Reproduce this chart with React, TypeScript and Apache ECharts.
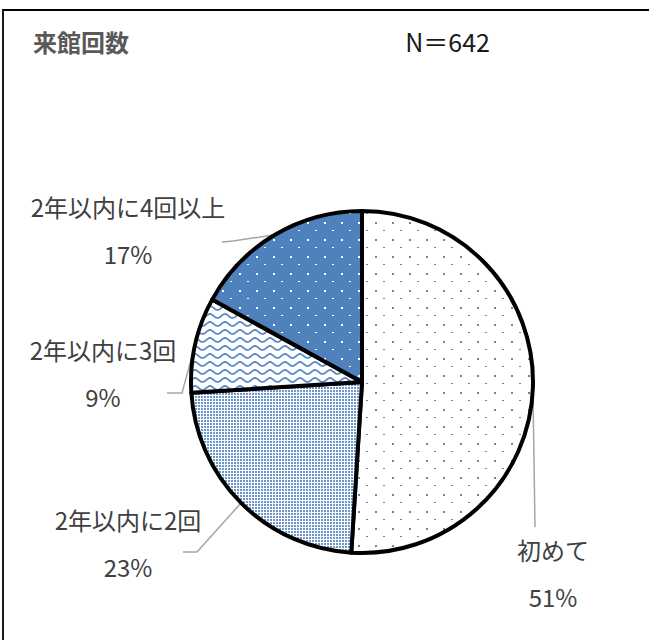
import React, { useEffect, useRef } from "react";
import * as echarts from "echarts";

// ---- data ----
const CATEGORIES = ["初めて", "2年以内に2回", "2年以内に3回", "2年以内に4回以上"];
const PERCENTS = [51, 23, 9, 17];
const TITLE = "来館回数";
const N_LABEL = "N＝642";

// ---- layout (label centres, label-line bend and end points) ----
const LABEL_CENTERS = [
  [553, 573],
  [128, 543],
  [103, 373],
  [128, 230],
];
const LINE_BENDS = [
  [535, 527],
  [197, 552],
  [182, 393],
  [233, 241],
];
const LINE_ENDS = [
  [535, 527],
  [183, 552],
  [167, 393],
  [222, 242],
];

const BLUE = "#4F81BD";
const FONT = '"Noto Sans CJK JP", "Noto Sans", sans-serif';

function makeTile(w: number, h: number, draw: (ctx: CanvasRenderingContext2D) => void) {
  const c = document.createElement("canvas");
  c.width = w;
  c.height = h;
  const ctx = c.getContext("2d") as CanvasRenderingContext2D;
  draw(ctx);
  return { image: c.toDataURL(), repeat: "repeat", imageWidth: w, imageHeight: h } as any;
}

function buildPatterns() {
  const sparse = makeTile(17, 17, (ctx) => {
    ctx.fillStyle = "#ffffff";
    ctx.fillRect(0, 0, 17, 17);
    ctx.fillStyle = "#5A8AC6";
    ctx.fillRect(1, 1, 2, 2);
    ctx.fillRect(9, 9, 2, 1);
  });
  const dense = makeTile(3, 3, (ctx) => {
    ctx.fillStyle = "#ffffff";
    ctx.fillRect(0, 0, 3, 3);
    ctx.fillStyle = "#6D96CC";
    ctx.fillRect(0, 0, 2, 2);
  });
  const wave = makeTile(15, 8, (ctx) => {
    ctx.fillStyle = "#ffffff";
    ctx.fillRect(0, 0, 15, 8);
    ctx.strokeStyle = "#5A8AC6";
    ctx.lineWidth = 1.8;
    ctx.beginPath();
    for (let i = -1; i <= 16; i++) {
      const yy = 4 - 2 * Math.cos((2 * Math.PI * i) / 15);
      if (i === -1) ctx.moveTo(i, yy);
      else ctx.lineTo(i, yy);
    }
    ctx.stroke();
  });
  const solidDots = makeTile(17, 17, (ctx) => {
    ctx.fillStyle = BLUE;
    ctx.fillRect(0, 0, 17, 17);
    ctx.fillStyle = "#ffffff";
    ctx.fillRect(1, 1, 2, 2);
    ctx.fillRect(9, 9, 2, 1);
  });
  return [sparse, dense, wave, solidDots];
}

export default function App() {
  const ref = useRef<HTMLDivElement>(null);
  useEffect(() => {
    document.body.style.margin = "0";
    if (!ref.current) return;
    const chart = echarts.init(ref.current, null, { renderer: "svg" });
    const patterns = buildPatterns();
    const center = [362, 382];
    const radius = 171;

    const option: any = {
      animation: false,
      backgroundColor: "#ffffff",
      graphic: [
        {
          type: "rect",
          shape: { x: 3, y: 10, width: 700, height: 700 },
          style: { fill: "none", stroke: "#000", lineWidth: 1.8 },
          z: 0,
        },
        {
          type: "text",
          x: 33,
          y: 41,
          style: {
            text: TITLE,
            fill: "#595959",
            fontFamily: FONT,
            fontSize: 24,
            fontWeight: "bold",
            verticalAlign: "middle",
            align: "left",
          },
        },
        {
          type: "text",
          x: 490,
          y: 41,
          style: {
            text: N_LABEL,
            fill: "#1a1a1a",
            fontFamily: FONT,
            fontSize: 25,
            verticalAlign: "middle",
            align: "right",
          },
        },
      ],
      series: [
        {
          type: "pie",
          center,
          radius,
          startAngle: 90,
          clockwise: true,
          data: CATEGORIES.map((name, i) => ({
            name,
            value: PERCENTS[i],
            itemStyle: { color: patterns[i] },
          })),
          itemStyle: { borderColor: "#000", borderWidth: 4 },
          emphasis: { disabled: true },
          label: {
            show: true,
            position: "outside",
            formatter: (p: any) => `${p.name}\n${Math.round(p.percent)}%`,
            color: "#404040",
            fontFamily: FONT,
            fontSize: 24,
            lineHeight: 47,
            align: "center",
            overflow: "none",
            width: 260,
          },
          labelLine: {
            show: true,
            lineStyle: { color: "#A6A6A6", width: 1.5 },
          },
          labelLayout: (params: any) => {
            const i = params.dataIndex;
            const edge =
              params.labelLinePoints && params.labelLinePoints[0]
                ? params.labelLinePoints[0]
                : center;
            return {
              x: LABEL_CENTERS[i][0],
              y: LABEL_CENTERS[i][1],
              align: "center",
              verticalAlign: "middle",
              labelLinePoints: [edge, LINE_BENDS[i], LINE_ENDS[i]],
            };
          },
        },
      ],
    };
    chart.setOption(option);
    return () => chart.dispose();
  }, []);
  return <div ref={ref} style={{ width: 649, height: 640 }} />;
}
